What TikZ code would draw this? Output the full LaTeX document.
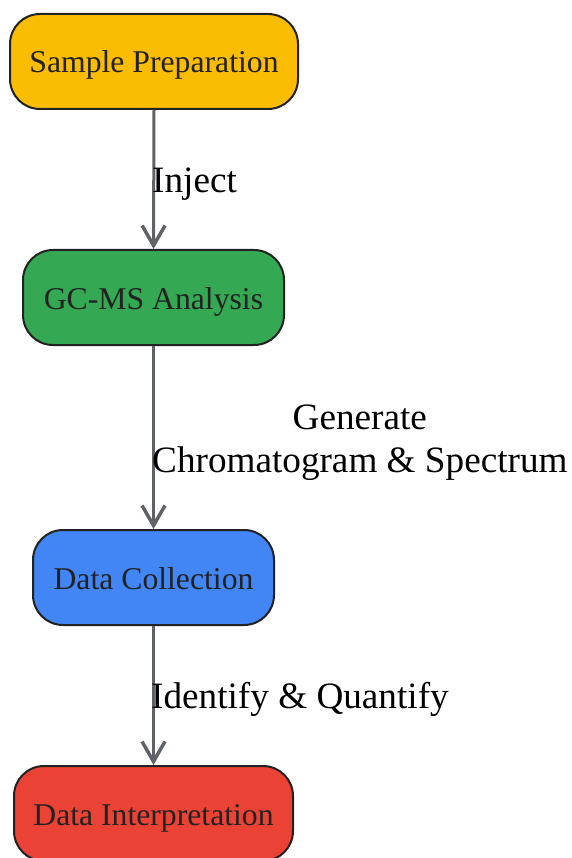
\documentclass[tikz,border=0pt]{standalone}
\usepackage{fontspec}
\setmainfont{Liberation Serif}
\usetikzlibrary{arrows.meta}
\definecolor{cyellow}{HTML}{FBBC04}
\definecolor{cgreen}{HTML}{34A853}
\definecolor{cblue}{HTML}{4285F4}
\definecolor{cred}{HTML}{EA4335}
\definecolor{cedge}{HTML}{5F6368}
\definecolor{cborder}{HTML}{222222}
\begin{document}
\begin{tikzpicture}[x=1pt,y=-1pt,
  box/.style={draw=cborder, line width=2pt, rounded corners=30pt, minimum height=95pt,
    inner sep=0pt, text height=23pt, text depth=0pt, text=cborder, font=\fontsize{31.7}{38}\selectfont},
  conn/.style={draw=cedge, line width=3pt, -{Straight Barb[length=20pt,width=23pt,line width=3.5pt]}},
  lbl/.style={anchor=base west, inner sep=0pt, align=center, font=\fontsize{37.2}{43}\selectfont, text=black}]
\useasboundingbox (0,0) rectangle (572,858);
\node[box, fill=cyellow, minimum width=288pt] (a) at (154,61.5) {Sample Preparation};
\node[box, fill=cgreen, minimum width=261pt] (b) at (153.5,297.5) {GC-MS Analysis};
\node[box, fill=cblue, minimum width=241pt] (c) at (153.5,577.5) {Data Collection};
\node[box, fill=cred, minimum width=279pt] (d) at (153.5,813.5) {Data Interpretation};
\draw[conn] (a.south) -- (b.north);
\draw[conn] (b.south) -- (c.north);
\draw[conn] (c.south) -- (d.north);
\node[lbl] (l1) at (152,193) {Inject};
\node[lbl] (l2) at (152,472) {Generate\\Chromatogram \& Spectrum};
\node[lbl] (l3) at (151,708) {Identify \& Quantify};
\end{tikzpicture}
\end{document}
